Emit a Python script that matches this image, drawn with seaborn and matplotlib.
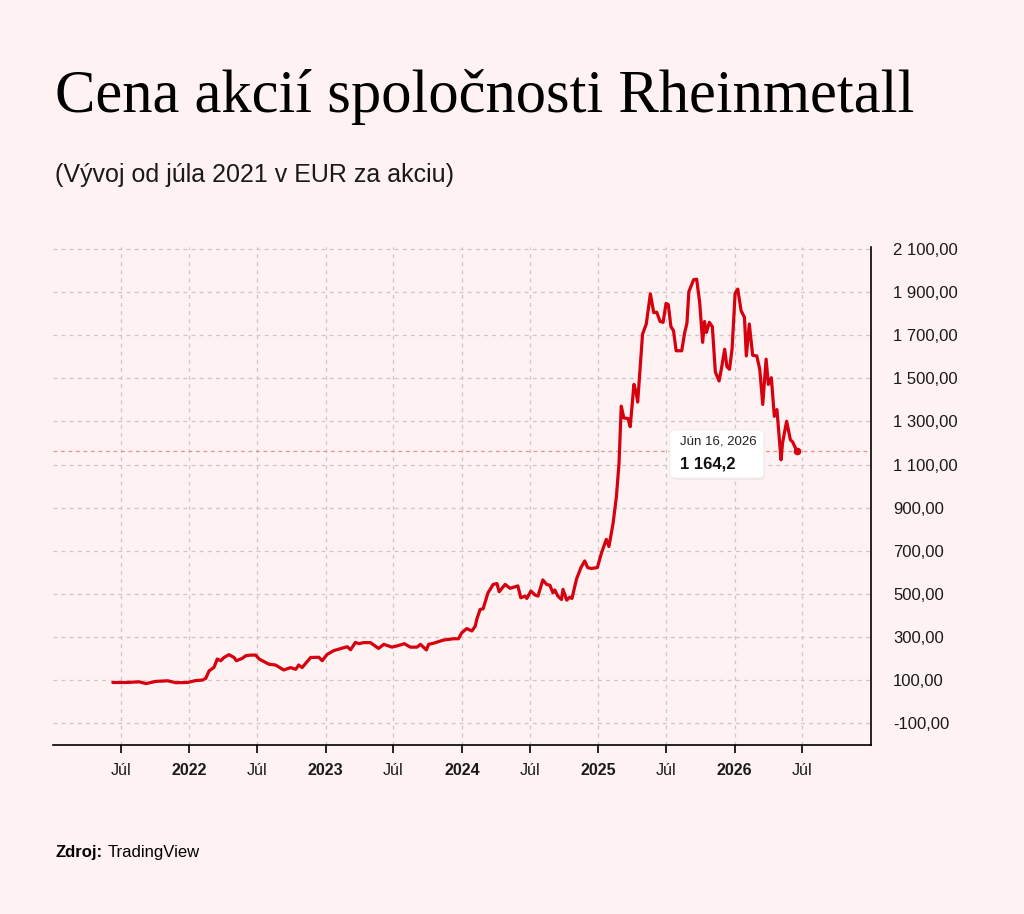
import pandas as pd
import seaborn as sns
import matplotlib.pyplot as plt
import matplotlib.dates as mdates
from matplotlib.ticker import FuncFormatter, FixedLocator
from matplotlib.patches import FancyBboxPatch

# týždenné uzatváracie ceny (odčítané z grafu), EUR
dates = [
    "2021-06-10", "2021-07-15", "2021-08-20", "2021-09-07", "2021-10-03", "2021-11-04",
    "2021-11-26", "2021-12-27", "2022-01-18", "2022-02-05", "2022-02-14", "2022-02-23",
    "2022-03-08", "2022-03-17", "2022-03-26", "2022-04-04", "2022-04-17", "2022-05-01",
    "2022-05-07", "2022-05-23", "2022-06-01", "2022-06-14", "2022-06-28", "2022-07-07",
    "2022-08-02", "2022-08-20", "2022-09-11", "2022-09-29", "2022-10-13", "2022-10-21",
    "2022-10-30", "2022-11-22", "2022-12-14", "2022-12-23", "2023-01-05", "2023-01-23",
    "2023-02-10", "2023-02-28", "2023-03-09", "2023-03-22", "2023-03-31", "2023-04-13",
    "2023-05-01", "2023-05-23", "2023-06-06", "2023-06-28", "2023-07-16", "2023-07-31",
    "2023-08-16", "2023-09-03", "2023-09-12", "2023-09-28", "2023-10-04", "2023-10-17",
    "2023-11-13", "2023-12-10", "2023-12-23", "2024-01-01", "2024-01-14", "2024-01-28",
    "2024-02-06", "2024-02-10", "2024-02-19", "2024-02-27", "2024-03-11", "2024-03-25",
    "2024-04-04", "2024-04-10", "2024-04-26", "2024-05-09", "2024-05-30", "2024-06-07",
    "2024-06-18", "2024-06-23", "2024-07-04", "2024-07-15", "2024-07-23", "2024-08-05",
    "2024-08-15", "2024-08-24", "2024-09-01", "2024-09-06", "2024-09-14", "2024-09-24",
    "2024-09-28", "2024-10-08", "2024-10-16", "2024-10-22", "2024-11-03", "2024-11-15",
    "2024-11-25", "2024-12-03", "2024-12-13", "2024-12-29", "2025-01-09", "2025-01-22",
    "2025-01-29", "2025-02-09", "2025-02-18", "2025-02-25", "2025-03-03", "2025-03-10",
    "2025-03-21", "2025-03-27", "2025-04-06", "2025-04-12", "2025-04-16", "2025-04-29",
    "2025-05-09", "2025-05-20", "2025-05-29", "2025-06-06", "2025-06-15", "2025-06-23",
    "2025-07-01", "2025-07-07", "2025-07-14", "2025-07-21", "2025-07-28", "2025-08-12",
    "2025-08-20", "2025-08-26", "2025-08-31", "2025-09-13", "2025-09-21", "2025-09-29",
    "2025-10-07", "2025-10-12", "2025-10-17", "2025-10-25", "2025-11-02", "2025-11-10",
    "2025-11-20", "2025-11-26", "2025-12-05", "2025-12-11", "2025-12-18", "2025-12-25",
    "2026-01-02", "2026-01-09", "2026-01-18", "2026-01-27", "2026-02-01", "2026-02-09",
    "2026-02-18", "2026-03-01", "2026-03-09", "2026-03-17", "2026-03-26", "2026-04-01",
    "2026-04-09", "2026-04-17", "2026-04-24", "2026-05-05", "2026-05-09", "2026-05-20",
    "2026-05-30", "2026-06-05", "2026-06-16",
]
prices = [
    89, 89, 92, 84, 94, 97,
    88, 89, 98, 100, 108, 143,
    159, 198, 190, 205, 218, 205,
    190, 201, 213, 216, 216, 198,
    174, 170, 147, 158, 150, 170,
    158, 205, 206, 190, 219, 237,
    246, 255, 241, 275, 269, 274,
    274, 247, 266, 253, 261, 269,
    253, 253, 266, 240, 266, 271,
    286, 292, 292, 320, 339, 328,
    351, 382, 428, 431, 505, 544,
    548, 510, 544, 526, 537, 482,
    490, 479, 513, 495, 490, 565,
    544, 540, 505, 518, 490, 474,
    521, 471, 485, 479, 568, 622,
    653, 622, 618, 622, 690, 753,
    720, 826, 951, 1106, 1371, 1316,
    1314, 1276, 1472, 1433, 1390, 1705,
    1752, 1892, 1805, 1807, 1764, 1760,
    1848, 1842, 1740, 1721, 1628, 1628,
    1713, 1756, 1902, 1958, 1960, 1853,
    1667, 1764, 1713, 1760, 1739, 1530,
    1488, 1542, 1635, 1554, 1542, 1640,
    1895, 1914, 1814, 1783, 1604, 1752,
    1607, 1604, 1542, 1379, 1589, 1472,
    1503, 1324, 1355, 1122, 1200, 1301,
    1215, 1205, 1164.2,
]

last_label_date = "Jún 16, 2026"
last_label_value = "1 164,2"
y_ticks = [-100, 100, 300, 500, 700, 900, 1100, 1300, 1500, 1700, 1900, 2100]
x_tick_dates = ["2021-07-01", "2022-01-01", "2022-07-01", "2023-01-01", "2023-07-01",
                "2024-01-01", "2024-07-01", "2025-01-01", "2025-07-01", "2026-01-01",
                "2026-07-01"]
x_tick_labels = ["Júl", "2022", "Júl", "2023", "Júl", "2024", "Júl", "2025", "Júl", "2026", "Júl"]

df = pd.DataFrame({"date": pd.to_datetime(dates), "price": prices})

bg = "#FEF2F2"
red = "#D7000F"

sns.set_theme(style="white", rc={"figure.facecolor": bg, "axes.facecolor": bg})
plt.rcParams["font.family"] = ["Liberation Sans", "DejaVu Sans"]

fig = plt.figure(figsize=(10.24, 9.14), dpi=100)
ax = fig.add_axes([0.0518, 0.1849, 0.7988, 0.5450])

sns.lineplot(data=df, x="date", y="price", color=red, linewidth=2.3, ax=ax)
ax.plot(df["date"].iloc[-1], df["price"].iloc[-1], "o", color=red, markersize=4.5, zorder=5)
ax.axhline(df["price"].iloc[-1], color="#F08C8C", linewidth=0.9, linestyle=(0, (3, 3)), zorder=1)

ax.set_xlim(pd.Timestamp("2021-01-01"), pd.Timestamp("2027-01-01"))
ax.set_ylim(-201, 2110)

ax.yaxis.tick_right()
ax.yaxis.set_major_locator(FixedLocator(y_ticks))
ax.yaxis.set_major_formatter(FuncFormatter(lambda v, p: f"{v:,.2f}".replace(",", " ").replace(".", ",")))
ax.set_xticks(mdates.date2num(pd.to_datetime(x_tick_dates)))
ax.set_xticklabels(x_tick_labels)
for lbl in ax.get_xticklabels():
    if lbl.get_text() != "Júl":
        lbl.set_fontweight("bold")

ax.tick_params(axis="y", length=0, pad=16, labelsize=12, labelcolor="#1a1a1a")
ax.tick_params(axis="x", length=6, width=1.2, color="black", direction="out", pad=7,
               labelsize=11.5, labelcolor="#1a1a1a", bottom=True)

ax.grid(True, color="#c8c8c8", linewidth=0.9, linestyle=(0, (3, 3.5)))
ax.set_axisbelow(True)
for side in ["top", "left"]:
    ax.spines[side].set_visible(False)
for side in ["bottom", "right"]:
    ax.spines[side].set_visible(True)
    ax.spines[side].set_color("black")
    ax.spines[side].set_linewidth(1.2)
ax.set_xlabel("")
ax.set_ylabel("")

# tooltip
shadow = FancyBboxPatch((671 / 1024, 1 - 480 / 914), 94 / 1024, 48 / 914,
                        boxstyle="round,pad=0,rounding_size=0.005", transform=fig.transFigure,
                        facecolor="#e8dede", edgecolor="none", alpha=0.6, zorder=9)
fig.patches.append(shadow)
box = FancyBboxPatch((670 / 1024, 1 - 478 / 914), 94 / 1024, 48 / 914,
                     boxstyle="round,pad=0,rounding_size=0.005", transform=fig.transFigure,
                     facecolor="white", edgecolor="#f0f0f0", linewidth=0.8, zorder=10)
fig.patches.append(box)
fig.text(680 / 1024, 1 - 441 / 914, last_label_date, fontsize=9.5, color="#222222",
         va="center", ha="left", zorder=11)
fig.text(680 / 1024, 1 - 464 / 914, last_label_value, fontsize=12, fontweight="bold",
         color="#111111", va="center", ha="left", zorder=11)

fig.text(55 / 1024, 1 - 97 / 914, "Cena akcií spoločnosti Rheinmetall", fontsize=43.7,
         family="Liberation Serif", color="black", va="center", ha="left")
fig.text(55 / 1024, 1 - 175 / 914, "(Vývoj od júla 2021 v EUR za akciu)", fontsize=18,
         color="#1a1a1a", va="center", ha="left")
fig.text(55 / 1024, 1 - 853 / 914, "Zdroj:", fontsize=12, fontweight="bold",
         color="black", va="center", ha="left")
fig.text(108 / 1024, 1 - 853 / 914, "TradingView", fontsize=12, color="black",
         va="center", ha="left")

plt.savefig("out.png", dpi=100, facecolor=bg)
